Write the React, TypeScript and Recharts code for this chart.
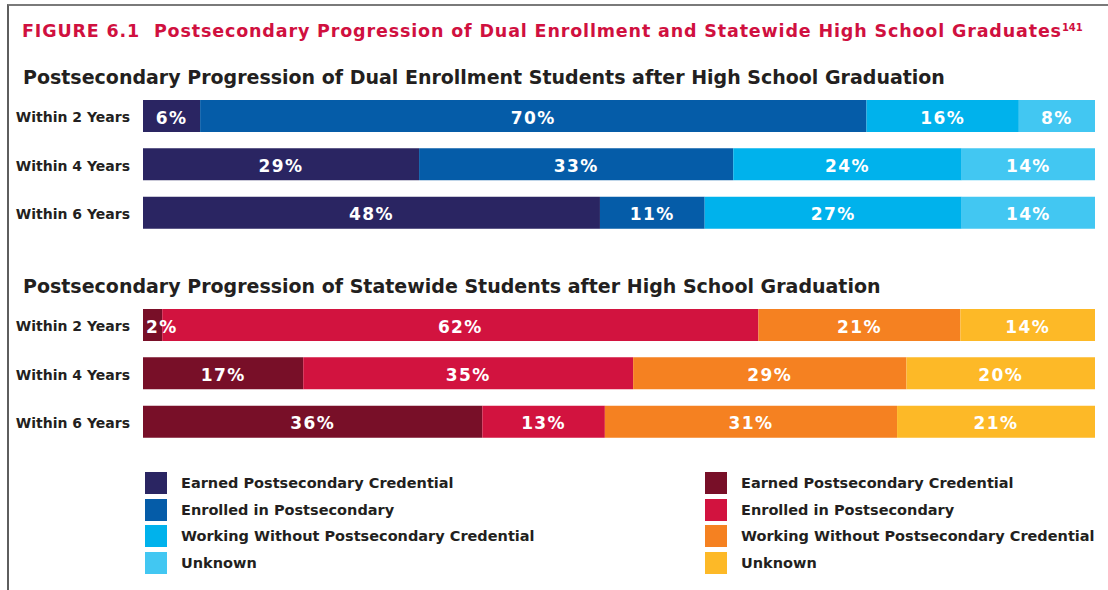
import { Bar, BarChart, LabelList, XAxis, YAxis } from "recharts";

const categories = ["Within 2 Years", "Within 4 Years", "Within 6 Years"];
const seriesNames = [
  "Earned Postsecondary Credential",
  "Enrolled in Postsecondary",
  "Working Without Postsecondary Credential",
  "Unknown",
];
const seriesKeys = ["earned", "enrolled", "working", "unknown"];

// dual enrollment students, % by outcome
const dualEarned = [6, 29, 48];
const dualEnrolled = [70, 33, 11];
const dualWorking = [16, 24, 27];
const dualUnknown = [8, 14, 14];

// statewide students, % by outcome
const stateEarned = [2, 17, 36];
const stateEnrolled = [62, 35, 13];
const stateWorking = [21, 29, 31];
const stateUnknown = [14, 20, 21];

const dualColors = ["#2A2562", "#055CA8", "#00B2EC", "#42C7F2"];
const stateColors = ["#780F28", "#D2133F", "#F58121", "#FDB927"];

const FONT = "'DejaVu Sans', sans-serif";
const INK = "#231F20";

const buildRows = (cols: number[][]) =>
  categories.map((label, i) => {
    const row: Record<string, string | number> = { label };
    seriesKeys.forEach((k, j) => (row[k] = cols[j][i]));
    return row;
  });

const dualRows = buildRows([dualEarned, dualEnrolled, dualWorking, dualUnknown]);
const stateRows = buildRows([stateEarned, stateEnrolled, stateWorking, stateUnknown]);

function CategoryTick({ x, y, payload }: any) {
  return (
    <text
      x={x}
      y={y + 1}
      textAnchor="end"
      dominantBaseline="central"
      fill={INK}
      fontSize={14}
      fontWeight={700}
      fontFamily={FONT}
    >
      {payload.value}
    </text>
  );
}

// centred % label; a sliver too thin for its text gets it pinned to the left edge instead
function SegmentLabel(props: any) {
  const { x, y, width, height, value } = props;
  const narrow = width < 34;
  return (
    <text
      x={narrow ? x + 3 : x + width / 2}
      y={y + height / 2 + 1.5}
      textAnchor={narrow ? "start" : "middle"}
      dominantBaseline="central"
      fill="#ffffff"
      fontSize={17}
      fontWeight={700}
      fontFamily={FONT}
      letterSpacing={1.4}
    >
      {`${value}%`}
    </text>
  );
}

function ProgressionBars({ rows, colors, top }: { rows: any[]; colors: string[]; top: number }) {
  return (
    <div style={{ position: "absolute", left: 0, top }}>
      <BarChart
        width={1095}
        height={145}
        data={rows}
        layout="vertical"
        stackOffset="expand"
        margin={{ top: 0, right: 0, bottom: 0, left: 0 }}
      >
        <XAxis type="number" hide />
        <YAxis
          type="category"
          dataKey="label"
          width={143}
          axisLine={false}
          tickLine={false}
          tickSize={0}
          tickMargin={13}
          tick={<CategoryTick />}
        />
        {seriesKeys.map((k, j) => (
          <Bar key={k} dataKey={k} stackId="a" fill={colors[j]} barSize={32} isAnimationActive={false}>
            <LabelList dataKey={k} content={<SegmentLabel />} />
          </Bar>
        ))}
      </BarChart>
    </div>
  );
}

function LegendBlock({ colors, left }: { colors: string[]; left: number }) {
  return (
    <div style={{ position: "absolute", left, top: 472 }}>
      {seriesNames.map((name, j) => (
        <div key={name} style={{ display: "flex", alignItems: "center", height: 22, marginBottom: 4.7 }}>
          <div style={{ width: 22, height: 22, background: colors[j] }} />
          <span
            style={{
              marginLeft: 14,
              fontFamily: FONT,
              fontWeight: 700,
              fontSize: 14.5,
              color: INK,
              whiteSpace: "nowrap",
            }}
          >
            {name}
          </span>
        </div>
      ))}
    </div>
  );
}

const headingStyle = {
  position: "absolute" as const,
  left: 23,
  fontFamily: FONT,
  fontWeight: 700,
  fontSize: 19,
  lineHeight: "20px",
  color: INK,
  whiteSpace: "nowrap" as const,
};

export default function App() {
  return (
    <div
      style={{
        position: "absolute",
        left: 0,
        top: 0,
        width: 1108,
        height: 590,
        background: "#fff",
        overflow: "hidden",
      }}
    >
      <div
        style={{
          position: "absolute",
          left: 7,
          top: 4,
          width: 1110,
          height: 600,
          borderTop: "2px solid #7a7a7a",
          borderLeft: "2px solid #5e5e5e",
        }}
      />
      <div
        style={{
          position: "absolute",
          left: 22,
          top: 21,
          fontFamily: FONT,
          fontWeight: 700,
          fontSize: 17.5,
          letterSpacing: 0.85,
          lineHeight: "20px",
          color: "#D0103F",
          whiteSpace: "nowrap",
        }}
      >
        FIGURE 6.1&nbsp;&nbsp;Postsecondary Progression of Dual Enrollment and Statewide High School Graduates
        <sup
          style={{
            fontSize: 10,
            letterSpacing: 0,
            verticalAlign: "top",
            lineHeight: "10px",
            position: "relative",
            top: 2,
          }}
        >
          141
        </sup>
      </div>
      <div style={{ ...headingStyle, top: 67 }}>
        Postsecondary Progression of Dual Enrollment Students after High School Graduation
      </div>
      <ProgressionBars rows={dualRows} colors={dualColors} top={92} />
      <div style={{ ...headingStyle, top: 276 }}>
        Postsecondary Progression of Statewide Students after High School Graduation
      </div>
      <ProgressionBars rows={stateRows} colors={stateColors} top={301} />
      <LegendBlock colors={dualColors} left={145} />
      <LegendBlock colors={stateColors} left={705} />
    </div>
  );
}
